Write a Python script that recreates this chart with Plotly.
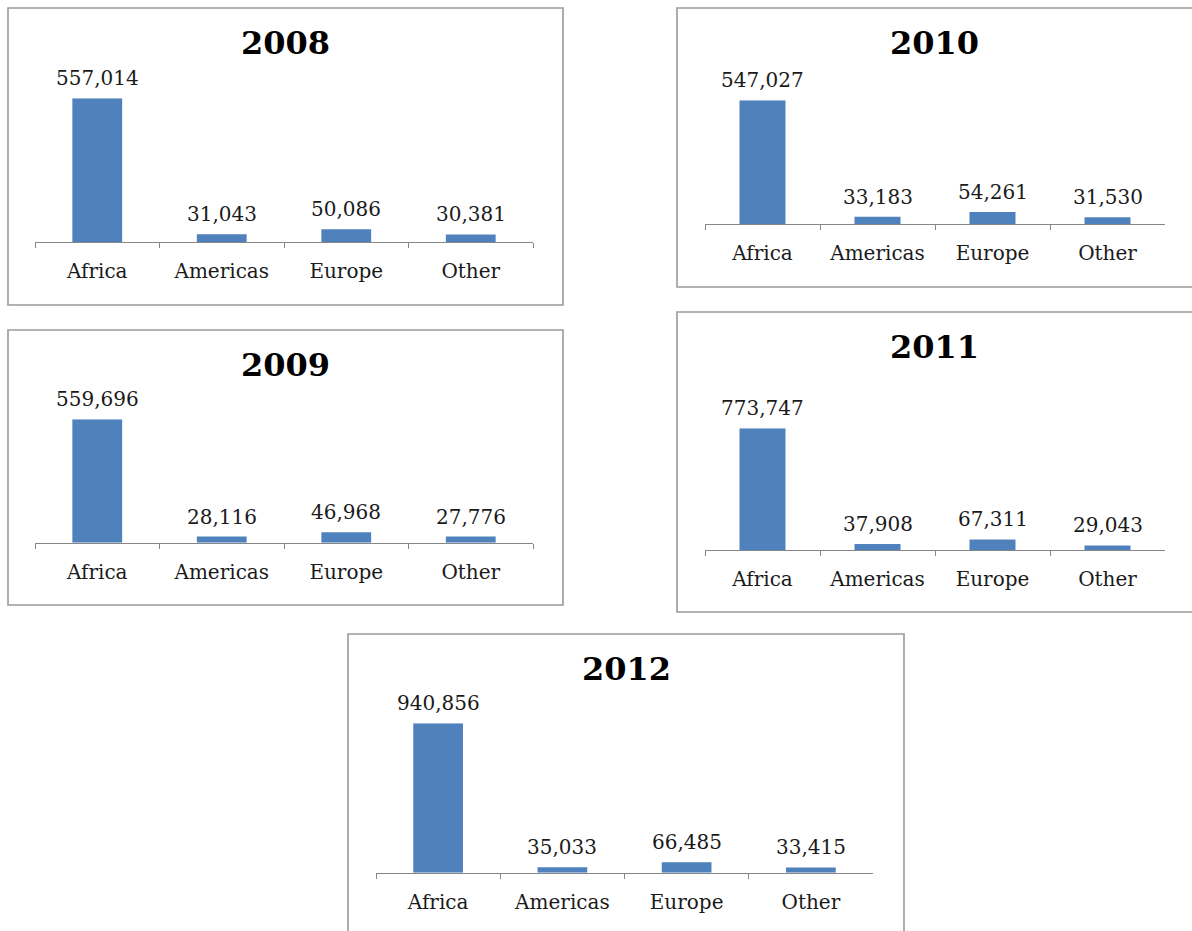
import plotly.graph_objects as go

# ---------------- data ----------------
categories = ["Africa", "Americas", "Europe", "Other"]
years = ["2008", "2009", "2010", "2011", "2012"]
v2008 = [557014, 31043, 50086, 30381]
v2009 = [559696, 28116, 46968, 27776]
v2010 = [547027, 33183, 54261, 31530]
v2011 = [773747, 37908, 67311, 29043]
v2012 = [940856, 35033, 66485, 33415]
series = [v2008, v2009, v2010, v2011, v2012]

# ---------------- layout geometry (pixels) ----------------
W, H = 1192, 931
# box: panel border (x0, y0, x1, y1); ax: axis x extent; base: axis line y; top: plot-area top y; ty: title centre y
panels = [
    dict(box=(8, 8, 563, 305), ax=(35, 533), base=242.3, top=98.3, ty=43),
    dict(box=(8, 330, 563, 605), ax=(35, 533), base=542.7, top=419.3, ty=365),
    dict(box=(677, 8, 1200, 287), ax=(705, 1165), base=224.3, top=100.3, ty=43),
    dict(box=(677, 312, 1200, 612), ax=(705, 1165), base=550.0, top=428.3, ty=347),
    dict(box=(348, 634, 904, 940), ax=(376, 873), base=872.7, top=723.3, ty=669),
]

BAR = "#4F81BD"
AXIS = "#878787"
BORDER = "#9a9a9a"
TXT = "#1a1a1a"
FONT = "DejaVu Serif"

def px(x):
    return x / W

def py(y):
    return 1 - y / H

fig = go.Figure()
shapes, annotations = [], []
layout_axes = {}

for i, (yr, vals, p) in enumerate(zip(years, series, panels), start=1):
    xa = "x" if i == 1 else f"x{i}"
    ya = "y" if i == 1 else f"y{i}"
    fig.add_trace(go.Bar(
        x=categories, y=vals, xaxis=xa, yaxis=ya,
        marker=dict(color=BAR, line=dict(width=0)),
        showlegend=False, hoverinfo="x+y",
    ))
    xkey = "xaxis" if i == 1 else f"xaxis{i}"
    ykey = "yaxis" if i == 1 else f"yaxis{i}"
    layout_axes[xkey] = dict(
        domain=[px(p["ax"][0]), px(p["ax"][1])], anchor=ya,
        type="category", range=[-0.5, 3.5], fixedrange=True,
        showline=True, linecolor=AXIS, linewidth=1.3,
        ticks="outside", tickson="boundaries", ticklen=5, tickcolor=AXIS, tickwidth=1.3,
        showgrid=False, zeroline=False,
        tickfont=dict(family=FONT, size=20, color=TXT),
        ticklabelstandoff=11,
    )
    layout_axes[ykey] = dict(
        domain=[py(p["base"]), py(p["top"])], anchor=xa,
        range=[0, max(vals)], visible=False, fixedrange=True,
    )
    x0, y0, x1, y1 = p["box"]
    shapes.append(dict(type="rect", xref="paper", yref="paper",
                       x0=px(x0), x1=px(x1), y0=py(y0), y1=py(y1),
                       line=dict(color=BORDER, width=1.6), fillcolor="rgba(0,0,0,0)", layer="below"))
    cx = (x0 + x1) / 2 if x1 <= W else (x0 + W) / 2
    annotations.append(dict(
        text=f"<b>{yr}</b>", xref="paper", yref="paper",
        x=px(cx), y=py(p["ty"]), xanchor="center", yanchor="middle", showarrow=False,
        font=dict(family=FONT, size=32, color="#000000"),
    ))
    for c, v in zip(categories, vals):
        annotations.append(dict(
            text=f"{v:,}", x=c, y=v, xref=xa, yref=ya,
            xanchor="center", yanchor="middle", yshift=20, showarrow=False,
            font=dict(family=FONT, size=20, color=TXT),
        ))

fig.update_layout(
    width=W, height=H,
    margin=dict(l=0, r=0, t=0, b=0),
    paper_bgcolor="white", plot_bgcolor="white",
    bargap=0.6,
    shapes=shapes, annotations=annotations,
    **layout_axes,
)

fig.write_html(
    "out.html",
    config={"displayModeBar": False},
    post_script="document.body.style.margin='0';document.body.style.overflow='hidden';",
)
